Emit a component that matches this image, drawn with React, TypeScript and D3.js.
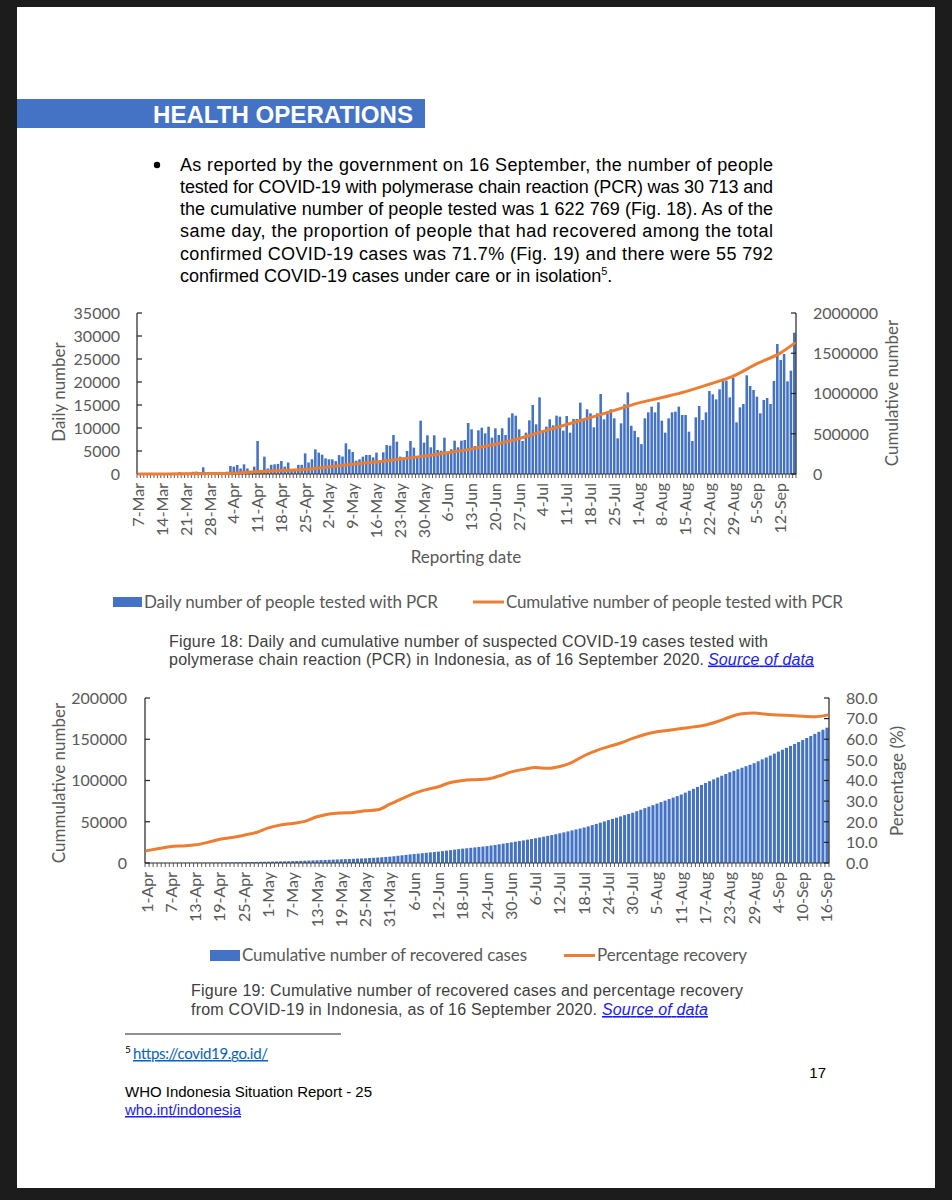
import React from 'react'
import * as d3 from 'd3'

// Fig. 18 - daily people tested with PCR, 7-Mar .. 16-Sep (one value per day)
const pcrDaily = [
  60, 80, 100, 120, 90, 150, 130, 180, 200, 170,
  250, 220, 420, 260, 300, 280, 480, 520, 430, 1450,
  350, 300, 400, 350, 450, 400, 500, 1740, 1600, 1960,
  1200, 2100, 1200, 700, 1600, 7170, 900, 3770, 1200, 2000,
  2100, 2200, 2830, 1600, 2500, 800, 1000, 2000, 2000, 4490,
  2500, 3200, 5360, 4640, 4200, 3400, 3200, 3200, 2800, 4100,
  3800, 6670, 5360, 4780, 2900, 3190, 3770, 4130, 4130, 3620,
  4640, 2680, 4710, 6300, 6160, 8480, 7030, 3770, 3550, 5000,
  7170, 5730, 3770, 11600, 6810, 8410, 5800, 8410, 5220, 5070,
  7900, 4860, 5360, 7250, 5800, 7250, 7390, 11090, 9710, 6090,
  9500, 10070, 8840, 10290, 7900, 9930, 8480, 9930, 8480, 12250,
  13190, 12680, 9710, 7170, 8990, 11670, 15000, 10800, 16670, 9570,
  10290, 11880, 10580, 12680, 12460, 9420, 12610, 8990, 11960, 11960,
  15510, 11740, 14060, 13190, 10150, 13190, 17390, 11880, 13190, 14060,
  12100, 7750, 11010, 15150, 17750, 10500, 9400, 8000, 6500, 12100,
  13400, 14640, 13400, 15580, 11600, 8990, 12100, 13400, 13550, 14640,
  12830, 12830, 9200, 7170, 12320, 14780, 11740, 13400, 18040, 17320,
  16230, 18410, 20650, 20290, 16670, 20940, 11230, 14490, 15220, 21450,
  19130, 18260, 16810, 13190, 16090, 16520, 15220, 20220, 28260, 24780,
  26090, 20150, 22460, 30713,
]
const pcrTickLabels = [
  '7-Mar', '14-Mar', '21-Mar', '28-Mar', '4-Apr', '11-Apr', '18-Apr', '25-Apr',
  '2-May', '9-May', '16-May', '23-May', '30-May', '6-Jun', '13-Jun', '20-Jun',
  '27-Jun', '4-Jul', '11-Jul', '18-Jul', '25-Jul', '1-Aug', '8-Aug', '15-Aug',
  '22-Aug', '29-Aug', '5-Sep', '12-Sep',
]
// cumulative people tested, read at weekly points (day index from 7-Mar)
const pcrCumDay = [0, 7, 14, 21, 28, 35, 42, 49, 56, 63, 70, 77, 84, 91, 98, 105, 112, 119, 126, 133, 140, 147, 154, 161, 168, 175, 182, 189, 193]
const pcrCumValue = [
  200, 1000, 2500, 6000, 10000, 28000, 43000, 58000, 88000, 120000,
  150000, 185000, 222000, 265000, 312000, 370000, 440000, 530000, 615000, 700000,
  790000, 880000, 950000, 1023000, 1115000, 1215000, 1370000, 1505000, 1622769,
]
const pcrLeftTicks = [0, 5000, 10000, 15000, 20000, 25000, 30000, 35000]
const pcrRightTicks = [0, 500000, 1000000, 1500000, 2000000]

// Fig. 19 - cumulative recovered cases, 1-Apr .. 16-Sep (one value per day)
const recovered = [
  100, 112, 125, 138, 150, 165, 180,
  198, 216, 234, 255, 277, 300,
  335, 370, 410, 455, 500, 550,
  620, 690, 760, 840, 920, 1000,
  1090, 1190, 1290, 1390, 1500, 1600,
  1710, 1820, 1940, 2060, 2180, 2300,
  2460, 2620, 2790, 2960, 3130, 3300,
  3500, 3700, 3900, 4100, 4300, 4500,
  4700, 4900, 5100, 5300, 5500, 5700,
  6000, 6300, 6600, 6950, 7300, 7700,
  8200, 8750, 9300, 9850, 10400, 10900,
  11400, 11900, 12400, 12850, 13300, 13800,
  14400, 15000, 15600, 16200, 16800, 17400,
  17900, 18400, 18900, 19400, 19950, 20500,
  21200, 21900, 22700, 23400, 24200, 25000,
  25800, 26600, 27400, 28300, 29100, 30000,
  30900, 31900, 32900, 33900, 34900, 36000,
  37100, 38300, 39500, 40700, 41800, 43000,
  44400, 45900, 47400, 48900, 50400, 52000,
  53500, 55000, 56500, 58000, 59500, 61000,
  62800, 64600, 66500, 68300, 70100, 72000,
  73800, 75600, 77500, 79300, 81100, 83000,
  85300, 87600, 89900, 92200, 94600, 97000,
  99200, 101400, 103600, 105800, 107900, 110000,
  111800, 113600, 115500, 117300, 119100, 121000,
  123300, 125600, 127900, 130200, 132600, 135000,
  137300, 139600, 141900, 144300, 146600, 149000,
  151500, 154000, 156500, 159000, 161500, 164000,
]
const recTickLabels = [
  '1-Apr', '7-Apr', '13-Apr', '19-Apr', '25-Apr', '1-May', '7-May', '13-May',
  '19-May', '25-May', '31-May', '6-Jun', '12-Jun', '18-Jun', '24-Jun', '30-Jun',
  '6-Jul', '12-Jul', '18-Jul', '24-Jul', '30-Jul', '5-Aug', '11-Aug', '17-Aug',
  '23-Aug', '29-Aug', '4-Sep', '10-Sep', '16-Sep',
]
// percentage recovery, read every third day (day index from 1-Apr)
const recPctDay = [
  0, 3, 6, 9, 12, 15, 18, 21, 24, 27, 30, 33, 36, 39, 42, 45, 48, 51, 54,
  57, 60, 63, 66, 69, 72, 75, 78, 81, 84, 87, 90, 93, 96, 99, 102, 105, 108,
  111, 114, 117, 120, 123, 126, 129, 132, 135, 138, 141, 144, 147, 150, 153,
  156, 159, 162, 165, 168,
]
const recPctValue = [
  6.0, 7.0, 8.0, 8.3, 8.8, 10.0, 11.5, 12.4, 13.5, 14.8, 17.0, 18.4, 19.2, 20.2, 22.4, 23.8, 24.3, 24.5, 25.3,
  25.8, 28.5, 31.2, 33.8, 35.6, 37.0, 39.0, 40.0, 40.4, 40.7, 42.2, 44.2, 45.4, 46.3, 45.9, 46.8, 48.8, 52.0,
  54.5, 56.4, 58.2, 60.4, 62.3, 63.6, 64.4, 65.2, 66.0, 66.9, 68.6, 70.8, 72.4, 72.7, 72.1,
  71.7, 71.5, 71.2, 70.9, 71.7,
]
const recLeftTicks = [0, 50000, 100000, 150000, 200000]
const recRightTicks = [0, 10, 20, 30, 40, 50, 60, 70, 80]

const paragraph = [
  'As reported by the government on 16 September, the number of people',
  'tested for COVID-19 with polymerase chain reaction (PCR) was 30 713 and',
  'the cumulative number of people tested was 1 622 769 (Fig. 18). As of the',
  'same day, the proportion of people that had recovered among the total',
  'confirmed COVID-19 cases was 71.7% (Fig. 19) and there were 55 792',
]

const BLUE = '#4472C4'
const ORANGE = '#ED7D31'
const GREY = '#595959'
const chartFont = 'Lato, "Open Sans", sans-serif'
const docFont = '"Liberation Sans", Arial, sans-serif'

interface Box { left: number; right: number; top: number; bottom: number }

interface ComboProps {
  box: Box
  bars: number[]
  barMax: number
  lineDay: number[]
  lineValue: number[]
  lineMax: number
  leftTicks: number[]
  rightTicks: number[]
  rightFormat: (v: number) => string
  tickLabels: string[]
  tickEvery: number
  leftLabelX: number
  rightLabelX: number
}

const ComboChart = (p: ComboProps) => {
  const { box } = p
  const x = d3.scaleBand<number>()
    .domain(d3.range(p.bars.length))
    .range([box.left, box.right])
    .paddingInner(0.25)
    .paddingOuter(0.125)
  const yL = d3.scaleLinear().domain([0, p.barMax]).range([box.bottom, box.top])
  const yR = d3.scaleLinear().domain([0, p.lineMax]).range([box.bottom, box.top])
  const cx = (i: number) => (x(i) as number) + x.bandwidth() / 2
  const line = d3.line<number>()
    .x((_, k) => cx(p.lineDay[k]))
    .y(d => yR(d))
    .curve(d3.curveMonotoneX)

  return (
    <g>
      {p.bars.map((v, i) => (
        <rect key={`b${i}`} x={x(i)} y={yL(v)} width={x.bandwidth()} height={box.bottom - yL(v)} fill={BLUE} />
      ))}
      {/* category tick comb */}
      {d3.range(p.bars.length + 1).map(k => (
        <line key={`c${k}`} x1={box.left + x.step() * k} x2={box.left + x.step() * k}
          y1={box.bottom} y2={box.bottom + 4} stroke="#333" strokeWidth={0.8} />
      ))}
      <line x1={box.left} x2={box.right} y1={box.bottom} y2={box.bottom} stroke="#333" strokeWidth={1} />
      <line x1={box.left} x2={box.left} y1={box.top} y2={box.bottom} stroke="#222" strokeWidth={1.2} />
      <line x1={box.right} x2={box.right} y1={box.top} y2={box.bottom} stroke="#222" strokeWidth={1.2} />
      {p.leftTicks.map(v => (
        <g key={`l${v}`}>
          <line x1={box.left} x2={box.left + 5} y1={yL(v)} y2={yL(v)} stroke="#222" strokeWidth={1.2} />
          <text x={p.leftLabelX} y={yL(v)} dy="0.36em" textAnchor="end" fontSize={16} fill={GREY} fontFamily={chartFont}>{v}</text>
        </g>
      ))}
      {p.rightTicks.map(v => (
        <g key={`r${v}`}>
          <line x1={box.right - 5} x2={box.right} y1={yR(v)} y2={yR(v)} stroke="#222" strokeWidth={1.2} />
          <text x={p.rightLabelX} y={yR(v)} dy="0.36em" textAnchor="start" fontSize={16} fill={GREY} fontFamily={chartFont}>{p.rightFormat(v)}</text>
        </g>
      ))}
      {p.tickLabels.map((t, k) => (
        <text key={`t${t}`} transform={`translate(${cx(k * p.tickEvery) + 5.5},${box.bottom + 9}) rotate(-90)`}
          textAnchor="end" fontSize={16} fill={GREY} fontFamily={chartFont}>{t}</text>
      ))}
      <path d={line(p.lineValue) || ''} fill="none" stroke={ORANGE} strokeWidth={3} strokeLinejoin="round" strokeLinecap="round" />
    </g>
  )
}

const App = () => {
  return (
    <svg width={952} height={1200} style={{ position: 'absolute', left: 0, top: 0, display: 'block' }}>
      <rect x={0} y={0} width={952} height={1200} fill="#1c1c1c" />
      <rect x={17} y={7} width={918} height={1181} fill="#ffffff" />

      {/* section header */}
      <rect x={17} y={99} width={408} height={29} fill="#4472C4" />
      <text x={153} y={122.5} fontFamily={docFont} fontWeight="bold" fontSize={23} fill="#fff" textLength={260} lengthAdjust="spacingAndGlyphs">HEALTH OPERATIONS</text>

      {/* bullet paragraph */}
      <circle cx={157} cy={165} r={3.2} fill="#000" />
      {paragraph.map((s, i) => (
        <text key={`p${i}`} x={180} y={170.5 + i * 22.3} fontFamily={docFont} fontSize={18} fill="#000"
          textLength={593} lengthAdjust="spacing">{s}</text>
      ))}
      <text x={180} y={170.5 + 5 * 22.3} fontFamily={docFont} fontSize={18} fill="#000">
        confirmed COVID-19 cases under care or in isolation<tspan fontSize={11} dy={-7}>5</tspan><tspan dy={7}>.</tspan>
      </text>

      {/* Figure 18 */}
      <ComboChart box={{ left: 137, right: 796, top: 313, bottom: 474 }}
        bars={pcrDaily} barMax={35000} lineDay={pcrCumDay} lineValue={pcrCumValue} lineMax={2000000}
        leftTicks={pcrLeftTicks} rightTicks={pcrRightTicks} rightFormat={v => String(v)}
        tickLabels={pcrTickLabels} tickEvery={7} leftLabelX={120} rightLabelX={813} />
      <text transform="translate(65,392) rotate(-90)" textAnchor="middle" fontSize={17} fill={GREY} fontFamily={chartFont}>Daily number</text>
      <text transform="translate(898,393) rotate(-90)" textAnchor="middle" fontSize={17} fill={GREY} fontFamily={chartFont}>Cumulative number</text>
      <text x={466} y={563} textAnchor="middle" fontSize={17} fill={GREY} fontFamily={chartFont}>Reporting date</text>
      <rect x={113} y={597} width={29} height={10} fill={BLUE} />
      <text x={144} y={608} fontSize={17} fill={GREY} fontFamily={chartFont} textLength={294} lengthAdjust="spacing">Daily number of people tested with PCR</text>
      <line x1={473} x2={504} y1={602} y2={602} stroke={ORANGE} strokeWidth={3} />
      <text x={506} y={608} fontSize={17} fill={GREY} fontFamily={chartFont} textLength={337} lengthAdjust="spacing">Cumulative number of people tested with PCR</text>

      <text x={169} y={646.5} fontFamily={docFont} fontSize={16} fill="#404040" textLength={599} lengthAdjust="spacing">Figure 18: Daily and cumulative number of suspected COVID-19 cases tested with</text>
      <text x={169} y={664.5} fontFamily={docFont} fontSize={16} fill="#404040" textLength={535} lengthAdjust="spacing">polymerase chain reaction (PCR) in Indonesia, as of 16 September 2020.</text>
      <text x={708} y={664.5} fontFamily={docFont} fontSize={16} fill="#1a1aff" fontStyle="italic" textDecoration="underline" textLength={106} lengthAdjust="spacing">Source of data</text>

      {/* Figure 19 */}
      <ComboChart box={{ left: 145, right: 829, top: 698, bottom: 863 }}
        bars={recovered} barMax={200000} lineDay={recPctDay} lineValue={recPctValue} lineMax={80}
        leftTicks={recLeftTicks} rightTicks={recRightTicks} rightFormat={v => v.toFixed(1)}
        tickLabels={recTickLabels} tickEvery={6} leftLabelX={127} rightLabelX={846} />
      <text transform="translate(65,783) rotate(-90)" textAnchor="middle" fontSize={17} fill={GREY} fontFamily={chartFont}>Cummulative number</text>
      <text transform="translate(903,781) rotate(-90)" textAnchor="middle" fontSize={17} fill={GREY} fontFamily={chartFont}>Percentage (%)</text>
      <rect x={210} y={950} width={30} height={11} fill={BLUE} />
      <text x={242} y={961} fontSize={17} fill={GREY} fontFamily={chartFont} textLength={285} lengthAdjust="spacing">Cumulative number of recovered cases</text>
      <line x1={564} x2={595} y1={955.5} y2={955.5} stroke={ORANGE} strokeWidth={3} />
      <text x={597} y={961} fontSize={17} fill={GREY} fontFamily={chartFont} textLength={150} lengthAdjust="spacing">Percentage recovery</text>

      <text x={191} y={996} fontFamily={docFont} fontSize={16} fill="#404040" textLength={552} lengthAdjust="spacing">Figure 19: Cumulative number of recovered cases and percentage recovery</text>
      <text x={191} y={1015} fontFamily={docFont} fontSize={16} fill="#404040" textLength={406} lengthAdjust="spacing">from COVID-19 in Indonesia, as of 16 September 2020.</text>
      <text x={602} y={1015} fontFamily={docFont} fontSize={16} fill="#1a1aff" fontStyle="italic" textDecoration="underline" textLength={106} lengthAdjust="spacing">Source of data</text>

      {/* footnote and footer */}
      <line x1={125} x2={341} y1={1034} y2={1034} stroke="#222" strokeWidth={1} />
      <text x={125} y={1053} fontFamily={chartFont} fontSize={10} fill="#000">5</text>
      <text x={133} y={1059} fontFamily={chartFont} fontSize={15} fill="#0563C1" textDecoration="underline" textLength={135} lengthAdjust="spacing">https://covid19.go.id/</text>
      <text x={826} y={1078} textAnchor="end" fontFamily={docFont} fontSize={15} fill="#000">17</text>
      <text x={125} y={1097} fontFamily={docFont} fontSize={15} fill="#000" textLength={247} lengthAdjust="spacing">WHO Indonesia Situation Report - 25</text>
      <text x={125} y={1115} fontFamily={docFont} fontSize={15} fill="#1a1aff" textDecoration="underline" textLength={116} lengthAdjust="spacing">who.int/indonesia</text>
    </svg>
  )
}

export default App
